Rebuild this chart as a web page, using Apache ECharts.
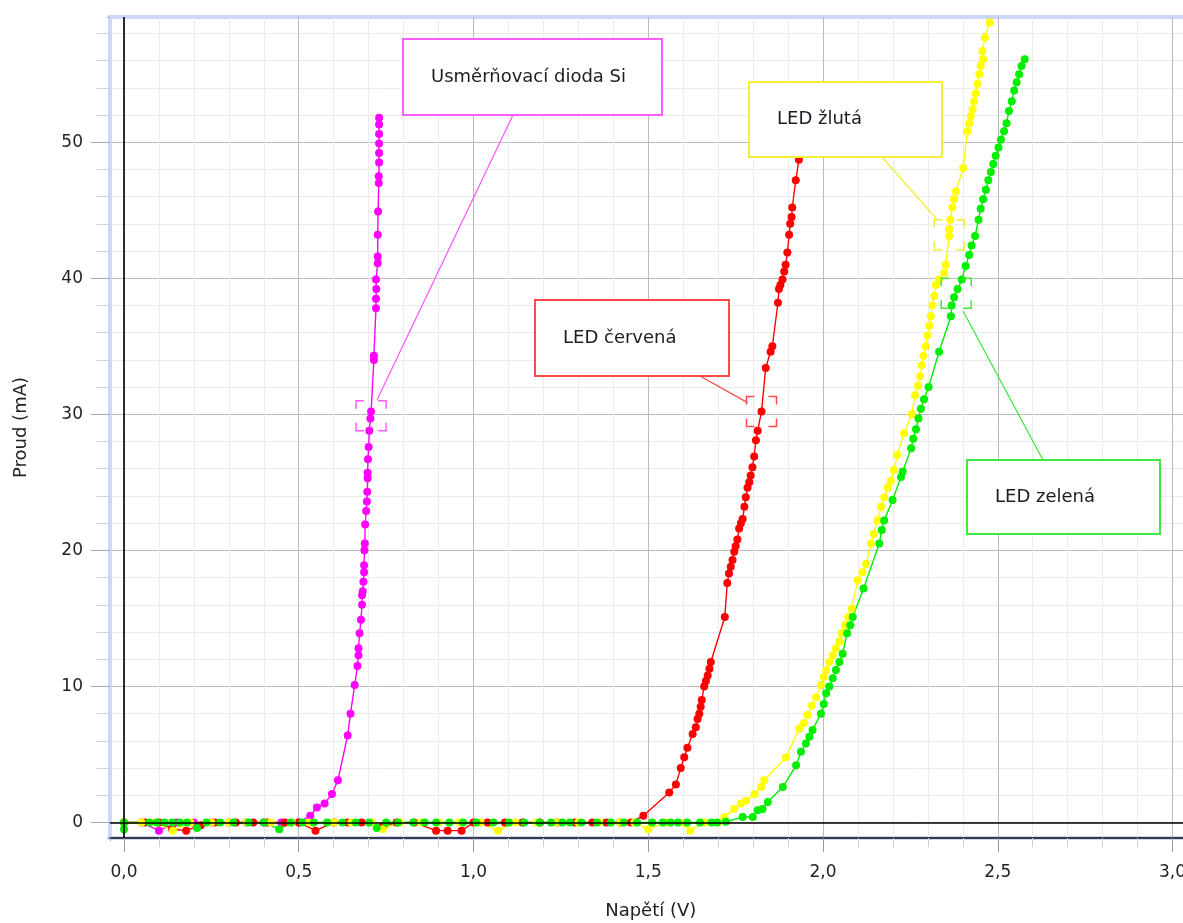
<!DOCTYPE html>
<html>
<head>
<meta charset="utf-8">
<script src="https://cdn.jsdelivr.net/npm/echarts@6/dist/echarts.min.js"></script>
<style>html,body{margin:0;padding:0;background:#fff}#c{width:1183px;height:923px}</style>
</head>
<body>
<div id="c"></div>
<script>
// ---- tick labels ----
const xMajorTicks = [0, 0.5, 1.0, 1.5, 2.0, 2.5, 3.0];
const yMajorTicks = [0, 10, 20, 30, 40, 50];

// ---- series: [voltage V, current mA] ----
const siDiode = [
  [0,0],[0.05,0],[0.10,-0.6],[0.15,0],[0.20,0],[0.25,0],[0.30,0],[0.35,0],[0.40,0],[0.45,0],[0.50,0],
  [0.533,0.5],[0.552,1.1],[0.574,1.4],[0.595,2.1],[0.612,3.1],[0.640,6.4],[0.648,8.0],[0.660,10.1],
  [0.668,11.5],[0.671,12.3],[0.671,12.8],[0.674,13.9],[0.678,14.9],[0.681,16.0],[0.681,16.7],[0.683,17.0],
  [0.685,17.7],[0.687,18.4],[0.687,18.9],[0.688,20.0],[0.689,20.5],[0.690,21.9],[0.693,22.9],[0.695,23.6],
  [0.696,24.3],[0.697,25.3],[0.697,25.7],[0.698,26.7],[0.700,27.6],[0.702,28.8],[0.705,29.7],[0.707,30.2],
  [0.715,34.0],[0.715,34.3],[0.721,37.8],[0.721,38.5],[0.722,39.2],[0.721,39.9],[0.726,41.1],[0.726,41.6],
  [0.726,43.2],[0.727,44.9],[0.729,47.0],[0.729,47.5],[0.730,48.5],[0.730,49.2],[0.730,49.9],[0.730,50.6],
  [0.730,51.3],[0.730,51.8]
];
const ledRed = [
  [0,0],[0.06,0],[0.10,0],[0.138,-0.5],[0.178,-0.6],[0.22,-0.2],[0.26,0],[0.32,0],[0.37,0],[0.41,0],[0.46,0],
  [0.50,0],[0.548,-0.6],[0.60,0],[0.64,0],[0.68,0],[0.74,-0.3],[0.78,0],[0.83,0],[0.893,-0.6],[0.926,-0.6],
  [0.966,-0.6],[1.00,0],[1.04,0],[1.09,0],[1.14,0],[1.19,0],[1.24,0],[1.29,0],[1.34,0],[1.38,0],[1.42,0],[1.45,0],
  [1.486,0.5],[1.560,2.2],[1.579,2.8],[1.593,4.0],[1.603,4.8],[1.612,5.5],[1.627,6.5],[1.636,7.0],[1.641,7.6],
  [1.646,8.0],[1.650,8.5],[1.653,9.0],[1.660,10.0],[1.665,10.4],[1.670,10.8],[1.675,11.3],[1.679,11.8],
  [1.719,15.1],[1.726,17.6],[1.731,18.3],[1.736,18.8],[1.741,19.3],[1.746,19.9],[1.750,20.3],[1.755,20.8],
  [1.760,21.6],[1.765,22.0],[1.770,22.3],[1.775,23.2],[1.779,23.9],[1.784,24.6],[1.789,25.0],[1.793,25.5],
  [1.798,26.1],[1.803,26.9],[1.808,28.1],[1.813,28.8],[1.824,30.2],[1.836,33.4],[1.850,34.6],[1.855,35.0],
  [1.871,38.2],[1.874,39.2],[1.878,39.5],[1.884,39.9],[1.889,40.5],[1.893,41.0],[1.898,41.9],[1.903,43.2],
  [1.906,44.0],[1.910,44.5],[1.912,45.2],[1.922,47.2],[1.931,48.7],[1.945,51.5],[1.955,53.5]
];
const ledYellow = [
  [0,0],[0.05,0],[0.09,0],[0.14,-0.6],[0.19,0],[0.25,0],[0.30,0],[0.35,0],[0.42,0],[0.48,0],[0.53,0],[0.60,0],
  [0.65,0],[0.71,0],[0.74,-0.5],[0.79,0],[0.85,0],[0.90,0],[0.96,0],[1.02,0],[1.07,-0.6],[1.12,0],[1.18,0],
  [1.24,0],[1.30,0],[1.36,0],[1.42,0],[1.46,0],[1.50,-0.5],[1.55,0],[1.59,0],[1.62,-0.6],[1.66,0],[1.70,0],
  [1.718,0.4],[1.746,1.0],[1.765,1.4],[1.780,1.6],[1.804,2.1],[1.823,2.6],[1.832,3.1],[1.894,4.8],[1.932,6.9],
  [1.945,7.3],[1.956,7.9],[1.968,8.6],[1.980,9.2],[1.994,10.1],[2.002,10.7],[2.009,11.2],[2.018,11.8],
  [2.028,12.3],[2.037,12.8],[2.047,13.3],[2.053,13.9],[2.063,14.5],[2.072,15.1],[2.082,15.7],[2.099,17.8],
  [2.113,18.4],[2.123,19.0],[2.137,20.5],[2.145,21.2],[2.156,22.2],[2.166,23.2],[2.175,23.9],[2.185,24.6],
  [2.194,25.1],[2.203,25.9],[2.212,27.0],[2.232,28.6],[2.254,30.0],[2.263,31.4],[2.272,32.1],[2.278,32.8],
  [2.283,33.6],[2.287,34.3],[2.294,35.0],[2.299,35.8],[2.304,36.5],[2.308,37.2],[2.313,38.0],[2.318,38.7],
  [2.323,39.5],[2.332,39.9],[2.347,40.4],[2.351,41.0],[2.361,43.1],[2.361,43.6],[2.364,44.3],[2.370,45.2],
  [2.375,45.8],[2.380,46.4],[2.401,48.1],[2.413,50.8],[2.418,51.4],[2.423,51.9],[2.428,52.4],[2.432,53.0],
  [2.437,53.6],[2.442,54.3],[2.447,55.0],[2.451,55.6],[2.458,56.1],[2.456,56.7],[2.463,57.7],[2.477,58.8]
];
const ledGreen = [
  [0,-0.5],[0,0],[0.073,0],[0.094,0],[0.116,0],[0.138,0],[0.160,0],[0.180,0],[0.209,-0.4],[0.236,0],[0.275,0],
  [0.313,0],[0.357,0],[0.400,0],[0.444,-0.5],[0.477,0],[0.510,0],[0.543,0],[0.581,0],[0.625,0],[0.663,0],
  [0.701,0],[0.723,-0.4],[0.750,0],[0.784,0],[0.827,0],[0.860,0],[0.893,0],[0.931,0],[0.970,0],[1.008,0],
  [1.057,0],[1.101,0],[1.145,0],[1.189,0],[1.222,0],[1.254,0],[1.276,0],[1.309,0],[1.353,0],[1.393,0],
  [1.430,0],[1.468,0],[1.511,0],[1.542,0],[1.564,0],[1.585,0],[1.611,0],[1.648,0],[1.681,0],[1.697,0],
  [1.722,0.05],[1.770,0.4],[1.799,0.4],[1.813,0.9],[1.827,1.0],[1.842,1.5],[1.885,2.6],[1.923,4.2],[1.937,5.2],
  [1.951,5.8],[1.961,6.3],[1.970,6.8],[1.994,8.0],[2.002,8.7],[2.009,9.5],[2.018,10.0],[2.028,10.6],
  [2.037,11.2],[2.047,11.8],[2.056,12.4],[2.069,13.9],[2.078,14.5],[2.085,15.1],[2.116,17.2],[2.161,20.5],
  [2.168,21.5],[2.175,22.2],[2.199,23.7],[2.223,25.4],[2.228,25.8],[2.252,27.5],[2.258,28.2],[2.266,28.9],
  [2.273,29.7],[2.280,30.4],[2.289,31.1],[2.302,32.0],[2.332,34.6],[2.366,37.2],[2.368,38.0],[2.375,38.6],
  [2.385,39.2],[2.397,39.9],[2.408,40.9],[2.418,41.7],[2.425,42.4],[2.435,43.1],[2.445,44.3],[2.451,45.1],
  [2.458,45.8],[2.466,46.5],[2.473,47.2],[2.480,47.8],[2.487,48.4],[2.494,49.0],[2.502,49.6],[2.509,50.2],
  [2.518,50.8],[2.525,51.4],[2.532,52.3],[2.540,53.0],[2.547,53.8],[2.554,54.4],[2.561,55.0],[2.568,55.6],
  [2.577,56.1]
];

// ---- annotation texts and the data point each one points at ----
const annotationLabels = ['Usměrňovací dioda Si', 'LED červená', 'LED žlutá', 'LED zelená'];
const annotationAnchors = [[0.707, 29.9], [1.824, 30.2], [2.361, 43.2], [2.381, 38.9]];

// ---- layout / styles ----
const FONT = 'DejaVu Sans';
const seriesColors = ['#ff00ff', '#ff0000', '#ffff00', '#00ee00'];
const boxColors = ['#ff5cff', '#ff4a4a', '#f2ee3a', '#3fe83f'];
const boxLayout = [
  {x: 403, y: 39, w: 259, h: 76, from: [513, 115], end: [6, -16]},
  {x: 535, y: 300, w: 194, h: 76, from: [700, 376], end: [-14, -9]},
  {x: 749, y: 82, w: 193, h: 75, from: [882, 157], end: [-12, -15]},
  {x: 967, y: 460, w: 193, h: 74, from: [1043, 460], end: [7, 18]}
];

const chart = echarts.init(document.getElementById('c'), null, {renderer: 'canvas'});

function mkSeries(name, data, color) {
  return {
    name, type: 'line', data, symbol: 'circle', symbolSize: 8, showSymbol: true, showAllSymbol: true,
    lineStyle: {color, width: 1.4}, itemStyle: {color}, z: 3, animation: false, clip: true,
    emphasis: {disabled: true}
  };
}

const option = {
  animation: false,
  grid: {left: 110, top: 17, width: 1097.5, height: 821, show: true, outerBoundsMode: 'none', containLabel: false,
         borderColor: '#cdd6ff', borderWidth: 4, backgroundColor: 'transparent'},
  xAxis: {
    type: 'value', min: -0.04, max: 3.1, position: 'bottom',
    axisLine: {show: true, onZero: false, lineStyle: {color: '#3a3a48', width: 2}},
    axisTick: {show: true, inside: false, length: 14, lineStyle: {color: '#9a9a9a', width: 1}},
    minorTick: {show: true, splitNumber: 5, length: 9, lineStyle: {color: '#cfcfcf', width: 1}},
    axisLabel: {customValues: xMajorTicks, formatter: v => v.toFixed(1).replace('.', ','),
                margin: 26, fontSize: 17, color: '#222', fontFamily: FONT},
    splitLine: {show: true, showMinLine: false, showMaxLine: false, lineStyle: {color: '#bcbcbc', width: 1}},
    minorSplitLine: {show: true, lineStyle: {color: '#ebebeb', width: 1}},
    name: 'Napětí (V)', nameLocation: 'middle', nameGap: 64,
    nameTextStyle: {fontSize: 18, color: '#222', fontFamily: FONT, padding: [0, 16, 0, 0]}
  },
  yAxis: {
    type: 'value', min: -1.14, max: 59.2,
    axisLine: {show: true, onZero: false, lineStyle: {color: '#cdd6ff', width: 4}},
    axisTick: {show: true, inside: false, length: 19, lineStyle: {color: '#a8a8a8', width: 1}},
    minorTick: {show: true, splitNumber: 5, length: 14, lineStyle: {color: '#d4d4d4', width: 1}},
    axisLabel: {customValues: yMajorTicks, margin: 27, fontSize: 17, color: '#222', fontFamily: FONT},
    splitLine: {show: true, showMinLine: false, showMaxLine: false, lineStyle: {color: '#bcbcbc', width: 1}},
    minorSplitLine: {show: true, lineStyle: {color: '#ebebeb', width: 1}},
    name: 'Proud (mA)', nameLocation: 'middle', nameGap: 80,
    nameTextStyle: {fontSize: 18, color: '#222', fontFamily: FONT}
  },
  series: [
    {type: 'line', data: [[0, 0]], showSymbol: false, lineStyle: {opacity: 0}, z: 2, silent: true,
     markLine: {silent: true, symbol: 'none', animation: false, label: {show: false},
                lineStyle: {color: '#000', width: 1.6, type: 'solid'},
                emphasis: {disabled: true},
                data: [{xAxis: 0}, {yAxis: 0}]}},
    mkSeries('Usměrňovací dioda Si', siDiode, seriesColors[0]),
    mkSeries('LED červená', ledRed, seriesColors[1]),
    mkSeries('LED žlutá', ledYellow, seriesColors[2]),
    mkSeries('LED zelená', ledGreen, seriesColors[3])
  ]
};
chart.setOption(option);

const graphics = [];
// mask the range-end ticks that ECharts adds at the axis extents (not present in the original)
const gridRect = chart.getModel().getComponent('grid', 0).coordinateSystem.getRect();
graphics.push({type: 'rect', z: 20, silent: true,
  shape: {x: gridRect.x - 24, y: gridRect.y - 3, width: 21, height: 6}, style: {fill: '#fff'}});
graphics.push({type: 'rect', z: 20, silent: true,
  shape: {x: gridRect.x - 24, y: gridRect.y + gridRect.height - 3, width: 21, height: 6}, style: {fill: '#fff'}});
graphics.push({type: 'rect', z: 20, silent: true,
  shape: {x: gridRect.x - 3, y: gridRect.y + gridRect.height + 3, width: 6, height: 16}, style: {fill: '#fff'}});

annotationLabels.forEach((label, i) => {
  const L = boxLayout[i];
  const c = boxColors[i];
  const p = chart.convertToPixel({gridIndex: 0}, annotationAnchors[i]);
  graphics.push({type: 'line', z: 10, silent: true,
    shape: {x1: L.from[0], y1: L.from[1], x2: p[0] + L.end[0], y2: p[1] + L.end[1]},
    style: {stroke: c, lineWidth: 1.3}});
  graphics.push({type: 'rect', z: 10, silent: true,
    shape: {x: p[0] - 15, y: p[1] - 15, width: 30, height: 30},
    style: {fill: null, stroke: c, lineWidth: 1.5, lineDash: [16, 14], lineDashOffset: 8}});
  graphics.push({type: 'rect', z: 11, silent: true,
    shape: {x: L.x, y: L.y, width: L.w, height: L.h},
    style: {fill: '#fff', stroke: c, lineWidth: 2}});
  graphics.push({type: 'text', z: 12, silent: true, x: L.x + 28, y: L.y + L.h / 2,
    style: {text: label, fontSize: 18, fontFamily: FONT, fill: '#1c1c24', verticalAlign: 'middle', align: 'left'}});
});
chart.setOption({graphic: graphics});
</script>
</body>
</html>
